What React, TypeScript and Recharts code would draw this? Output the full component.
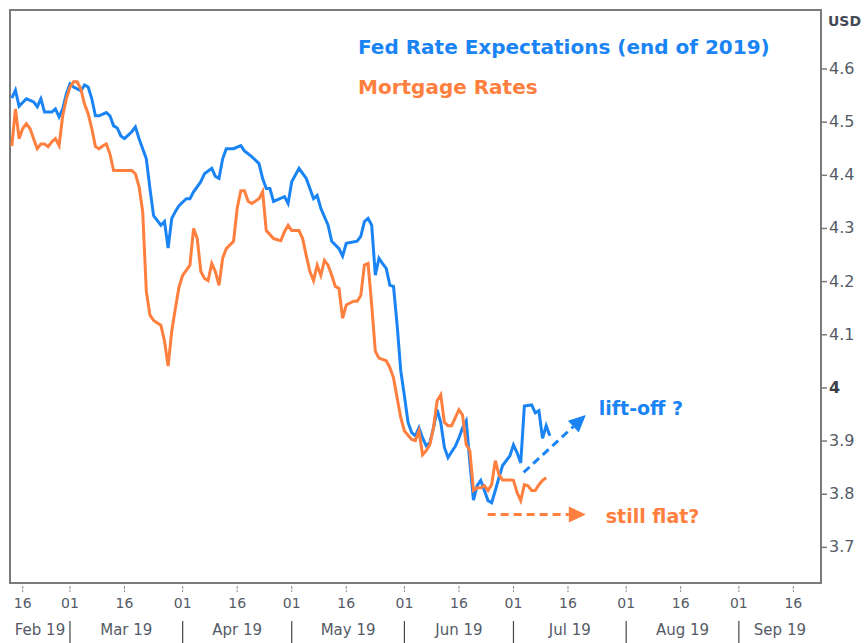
import React from 'react';
import { LineChart, Line, XAxis, YAxis, ReferenceArea, ReferenceLine, Legend } from 'recharts';

// x values are days counted from 1 Jan 2019 (0 = Jan 1)
const fedDays = [
  43, 44, 45, 47, 49, 50, 51, 52, 54, 55, 56, 57, 58, 59, 60, 62, 63, 64, 65, 66, 67, 69, 70, 71, 72, 73, 74, 76,
  77, 78, 79, 80, 81, 82, 84, 85, 86, 87, 88, 89, 91, 92, 93, 95, 96, 98, 99, 100, 101, 102, 104, 106, 107, 109,
  111, 112, 113, 114, 115, 118, 119, 120, 122, 124, 125, 126, 127, 128, 130, 131, 133, 134, 135, 138, 139, 140,
  141, 142, 143, 144, 145, 146, 147, 148, 149, 150, 151, 152, 153, 154, 155, 156, 157, 158, 159, 160, 161, 162,
  163, 164, 165, 166, 167, 168, 169, 170, 171, 172, 173, 174, 175, 176, 177, 178, 180, 181, 182, 183, 184, 186,
  187, 188, 189, 190, 191,
];
const fedRates = [
  4.545, 4.56, 4.53, 4.544, 4.538, 4.529, 4.544, 4.519, 4.519, 4.525, 4.51, 4.525, 4.553, 4.572, 4.566, 4.559,
  4.57, 4.566, 4.544, 4.512, 4.512, 4.518, 4.512, 4.493, 4.489, 4.474, 4.469, 4.482, 4.491, 4.469, 4.45, 4.431,
  4.375, 4.324, 4.306, 4.313, 4.263, 4.319, 4.332, 4.343, 4.356, 4.356, 4.369, 4.388, 4.403, 4.413, 4.398, 4.394,
  4.431, 4.45, 4.45, 4.456, 4.446, 4.435, 4.422, 4.394, 4.375, 4.375, 4.351, 4.36, 4.347, 4.388, 4.413, 4.394,
  4.375, 4.356, 4.362, 4.338, 4.306, 4.276, 4.262, 4.248, 4.272, 4.276, 4.285, 4.313, 4.319, 4.306, 4.212, 4.244,
  4.234, 4.225, 4.193, 4.191, 4.118, 4.032, 3.985, 3.935, 3.916, 3.91, 3.925, 3.906, 3.891, 3.897, 3.925, 3.959,
  3.935, 3.888, 3.869, 3.88, 3.89, 3.906, 3.925, 3.938, 3.86, 3.789, 3.816, 3.826, 3.807, 3.788, 3.784, 3.807,
  3.831, 3.854, 3.872, 3.893, 3.878, 3.859, 3.966, 3.968, 3.953, 3.957, 3.905, 3.929, 3.91,
];

const mortgageDays = [
  43, 44, 45, 46, 47, 48, 49, 50, 51, 52, 53, 54, 55, 56, 57, 58, 59, 60, 61, 62, 63, 64, 65, 66, 67, 68, 69, 70,
  71, 76, 77, 78, 79, 80, 81, 82, 84, 85, 86, 87, 88, 89, 90, 91, 92, 93, 94, 95, 96, 97, 98, 99, 100, 101, 102,
  104, 105, 106, 107, 108, 109, 111, 112, 113, 115, 117, 118, 119, 120, 122, 123, 124, 125, 126, 127, 128, 129,
  130, 131, 132, 133, 134, 135, 137, 138, 139, 140, 141, 142, 143, 144, 146, 147, 148, 149, 150, 151, 153, 154,
  155, 156, 157, 158, 159, 160, 161, 162, 163, 164, 165, 166, 167, 168, 169, 170, 171, 172, 173, 174, 175, 176,
  177, 178, 180, 181, 182, 183, 184, 185, 186, 187, 188, 189, 190,
];
const mortgageRates = [
  4.455, 4.525, 4.469, 4.488, 4.497, 4.488, 4.469, 4.45, 4.459, 4.459, 4.454, 4.463, 4.469, 4.456, 4.512, 4.544,
  4.566, 4.576, 4.576, 4.562, 4.534, 4.516, 4.488, 4.454, 4.45, 4.455, 4.459, 4.44, 4.409, 4.409, 4.403, 4.379,
  4.332, 4.182, 4.137, 4.127, 4.118, 4.088, 4.041, 4.107, 4.15, 4.19, 4.212, 4.221, 4.231, 4.3, 4.281, 4.219,
  4.206, 4.202, 4.234, 4.219, 4.193, 4.244, 4.262, 4.276, 4.338, 4.371, 4.371, 4.351, 4.347, 4.356, 4.369, 4.296,
  4.281, 4.277, 4.294, 4.306, 4.296, 4.296, 4.281, 4.249, 4.219, 4.202, 4.231, 4.212, 4.24, 4.231, 4.212, 4.191,
  4.187, 4.131, 4.156, 4.163, 4.163, 4.174, 4.231, 4.234, 4.156, 4.069, 4.056, 4.051, 4.038, 4.019, 3.981, 3.944,
  3.919, 3.903, 3.901, 3.919, 3.874, 3.882, 3.893, 3.925, 3.976, 3.987, 3.935, 3.929, 3.929, 3.944, 3.959, 3.949,
  3.893, 3.882, 3.807, 3.812, 3.812, 3.816, 3.807, 3.818, 3.863, 3.837, 3.827, 3.827, 3.826, 3.803, 3.788, 3.818,
  3.816, 3.807, 3.807, 3.818, 3.826, 3.831,
];

const yTicks = [3.7, 3.8, 3.9, 4, 4.1, 4.2, 4.3, 4.4, 4.5, 4.6];
// the 16th and the 1st of each month
const dayTicks = [46, 59, 74, 90, 105, 120, 135, 151, 166, 181, 196, 212, 227, 243, 258];
const monthStarts = [31, 59, 90, 120, 151, 181, 212, 243, 273];
const monthNames = ['Feb 19', 'Mar 19', 'Apr 19', 'May 19', 'Jun 19', 'Jul 19', 'Aug 19', 'Sep 19'];

// annotation arrows: [day, rate] start and tip
const liftOffArrow = [{ x: 183.8, y: 3.841 }, { x: 200.9, y: 3.949 }];
const flatArrow = [{ x: 173.9, y: 3.762 }, { x: 200.9, y: 3.762 }];

const X_DOMAIN: [number, number] = [42.5, 265.6];
const Y_DOMAIN: [number, number] = [3.633, 4.711];

const BLUE = '#1a84f4';
const ORANGE = '#ff7f3e';
const FRAME = '#7b7b7b';
const AXIS_TEXT = '#555b66';
const FONT = '"DejaVu Sans", Verdana, sans-serif';

const fedData = fedDays.map((day, i) => ({ day, rate: fedRates[i] }));
const mortgageData = mortgageDays.map((day, i) => ({ day, rate: mortgageRates[i] }));

// month labels sit in the middle of the visible part of each month
const monthMids = monthNames.map(
  (_, i) => (Math.max(monthStarts[i], X_DOMAIN[0]) + Math.min(monthStarts[i + 1], X_DOMAIN[1])) / 2
);
const allTicks = Array.from(new Set([...dayTicks, ...monthMids])).sort((a, b) => a - b);

function monthIndexOf(day: number) {
  let idx = 0;
  monthStarts.forEach((start, i) => {
    if (day >= start) idx = i;
  });
  return idx;
}

// one tick renderer for both rows: day-of-month ticks and month names
function DateTick({ x, y, payload }: any) {
  const v = payload.value;
  const isDay = dayTicks.includes(v);
  const mi = monthMids.indexOf(v);
  const dom = v - monthStarts[monthIndexOf(v)] + 1;
  return (
    <g>
      {isDay && (
        <>
          <line x1={x} x2={x} y1={y + 3} y2={y + 9} stroke="#8a8a8a" strokeDasharray="3 1" />
          <text x={x} y={y + 25} textAnchor="middle" fontFamily={FONT} fontSize={14} fill={AXIS_TEXT}>
            {String(dom).padStart(2, '0')}
          </text>
          {dom === 1 && <line x1={x} x2={x} y1={y + 38} y2={y + 60} stroke="#444" strokeWidth={1.2} />}
        </>
      )}
      {mi >= 0 && (
        <text x={x} y={y + 52} textAnchor="middle" fontFamily={FONT} fontSize={15} fill={AXIS_TEXT}>
          {monthNames[mi]}
        </text>
      )}
    </g>
  );
}

function PriceTick({ x, y, payload }: any) {
  const v = payload.value;
  const whole = v === 4;
  return (
    <text
      x={x}
      y={y}
      dy={5}
      textAnchor="start"
      fontFamily={FONT}
      fontSize={16}
      fontWeight={whole ? 'bold' : 'normal'}
      fill={whole ? '#3a3f48' : AXIS_TEXT}
    >
      {whole ? '4' : v.toFixed(1)}
    </text>
  );
}

const arrowShape = (color: string, text: string, dx: number, dy: number) => (p: any) => {
  const { x1, y1, x2, y2 } = p;
  const ang = Math.atan2(y2 - y1, x2 - x1);
  const head = 17;
  const half = 8;
  const bx = x2 - head * Math.cos(ang);
  const by = y2 - head * Math.sin(ang);
  const px = -Math.sin(ang) * half;
  const py = Math.cos(ang) * half;
  return (
    <g>
      <line x1={x1} y1={y1} x2={bx} y2={by} stroke={color} strokeWidth={3} strokeDasharray="8 5" />
      <polygon points={`${x2},${y2} ${bx + px},${by + py} ${bx - px},${by - py}`} fill={color} />
      <text x={x2 + dx} y={y2 + dy} dy={7} fontFamily={FONT} fontSize={19} fontWeight="bold" fill={color}>
        {text}
      </text>
    </g>
  );
};

function SeriesTitles({ payload }: any) {
  return (
    <div style={{ fontFamily: FONT, fontSize: 20, fontWeight: 'bold', lineHeight: '40px' }}>
      {(payload || []).map((entry: any) => (
        <div key={entry.value} style={{ color: entry.color, whiteSpace: 'nowrap' }}>
          {entry.value}
        </div>
      ))}
    </div>
  );
}

export default function App() {
  return (
    <div style={{ position: 'absolute', left: 0, top: 0, background: '#fff' }}>
      <LineChart width={868} height={643} margin={{ top: 10, right: 0, left: 10, bottom: 0 }}>
        <XAxis
          dataKey="day"
          type="number"
          domain={X_DOMAIN}
          allowDataOverflow
          ticks={allTicks}
          interval={0}
          height={60}
          axisLine={false}
          tickLine={false}
          tickSize={0}
          tickMargin={0}
          tick={<DateTick />}
        />
        <YAxis
          orientation="right"
          type="number"
          domain={Y_DOMAIN}
          allowDataOverflow
          ticks={yTicks}
          interval={0}
          width={47}
          axisLine={false}
          tickLine={{ stroke: FRAME, strokeWidth: 1.5 }}
          tickSize={6}
          tick={<PriceTick />}
          label={{
            value: 'USD',
            position: 'insideTop',
            offset: 6,
            fill: '#444a55',
            fontWeight: 'bold',
            fontSize: 14,
            fontFamily: FONT,
          }}
        />
        <ReferenceArea
          x1={X_DOMAIN[0]}
          x2={X_DOMAIN[1]}
          y1={Y_DOMAIN[0]}
          y2={Y_DOMAIN[1]}
          fill="none"
          fillOpacity={0}
          stroke={FRAME}
          strokeWidth={2}
          ifOverflow="visible"
        />
        <Legend
          layout="vertical"
          align="center"
          verticalAlign="middle"
          wrapperStyle={{ top: 27, left: 358, width: 480, height: 80 }}
          content={<SeriesTitles />}
        />
        <Line
          data={fedData}
          dataKey="rate"
          name="Fed Rate Expectations (end of 2019)"
          type="linear"
          stroke={BLUE}
          strokeWidth={3}
          dot={false}
          isAnimationActive={false}
        />
        <Line
          data={mortgageData}
          dataKey="rate"
          name="Mortgage Rates"
          type="linear"
          stroke={ORANGE}
          strokeWidth={3}
          dot={false}
          isAnimationActive={false}
        />
        <ReferenceLine
          segment={liftOffArrow}
          stroke={BLUE}
          ifOverflow="visible"
          shape={arrowShape(BLUE, 'lift-off ?', 13, -7)}
        />
        <ReferenceLine
          segment={flatArrow}
          stroke={ORANGE}
          ifOverflow="visible"
          shape={arrowShape(ORANGE, 'still flat?', 20, 2)}
        />
      </LineChart>
    </div>
  );
}
